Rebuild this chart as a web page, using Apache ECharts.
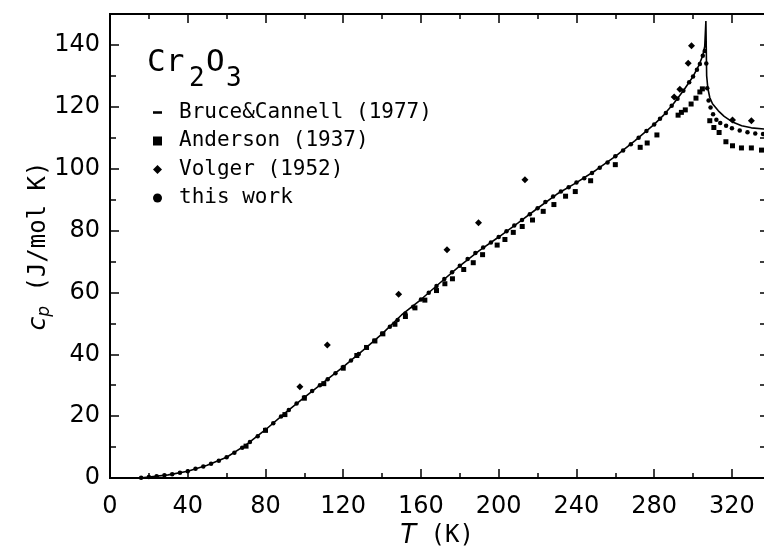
<!DOCTYPE html>
<html>
<head>
<meta charset="utf-8">
<script src="https://cdn.jsdelivr.net/npm/echarts@6/dist/echarts.min.js"></script>
<style>html,body{margin:0;padding:0;background:#fff;}#c{width:764px;height:551px;}</style>
</head>
<body>
<div id="c"></div>
<script>
// ---- data (T in K, cp in J/mol K) ----
const xTicksMajor = [0, 40, 80, 120, 160, 200, 240, 280, 320];
const xTicksMinor = [20, 60, 100, 140, 180, 220, 260, 300];
const yTicksMajor = [0, 20, 40, 60, 80, 100, 120, 140];
const yTicksMinor = [10, 30, 50, 70, 90, 110, 130];

const bruceCannell = [[15,0],[20,0.3],[30,1.0],[40,2.2],[50,4.1],[60,6.7],[70,10.7],[80,15.6],[90,21.0],[100,26.1],[110,31.0],[120,35.9],[130,41.2],[140,46.6],[150,52.7],[160,57.7],[170,63.2],[180,68.6],[190,73.5],[200,77.9],[210,82.5],[220,87.2],[230,91.8],[240,95.5],[250,99.5],[260,104.0],[270,109.0],[280,114.3],[285,117.4],[290,121.1],[295,125.2],[300,129.8],[303,133.4],[305,136.6],[306,139.5],[306.6,147.7],[307.0,130],[307.6,126],[308.6,123],[310,121],[313,118.7],[316,116.9],[320,115.2],[325,113.9],[330,113.2],[340,112.6]];

const anderson = [[70,10.3],[80,15.4],[90,20.5],[100,25.8],[110,30.5],[120,35.5],[127,39.6],[132,42.2],[136.3,44.3],[140.4,46.6],[146.6,49.7],[152,52.2],[156.9,55.0],[162,57.5],[168,60.6],[172.3,62.8],[176.2,64.4],[182,67.4],[186.9,69.6],[191.7,72.2],[199.2,75.3],[203.2,77.1],[207.5,79.4],[212.1,81.3],[217.4,83.4],[222.9,86.2],[228.4,88.4],[234.4,91.1],[239.4,92.6],[247.3,96.1],[260,101.3],[272.8,106.9],[276.4,108.3],[281.4,110.9],[292.3,117.3],[294,118.2],[296,119.0],[299,120.9],[301.5,122.8],[303.5,124.8],[304.8,125.8],[308.6,115.5],[310.7,113.3],[313.4,111.7],[316.9,108.7],[320.3,107.4],[324.9,106.7],[330,106.7],[335.2,106.0]];

const volger = [[97.7,29.5],[111.8,43.0],[148.5,59.4],[173.4,73.8],[189.6,82.5],[213.5,96.4],[290.3,123.2],[293.2,125.7],[297.5,134.1],[299.2,139.7],[320.3,115.7],[330,115.5]];

const thisWork = [[16,0.1],[20,0.3],[24,0.6],[28,0.9],[32,1.2],[36,1.7],[40,2.2],[44,3.0],[48,3.7],[52,4.6],[56,5.6],[60,6.7],[64,8.2],[68,9.8],[72,11.6],[76,13.5],[80,15.6],[84,17.7],[88,19.9],[92,22.0],[96,24.1],[100,26.1],[104,28.1],[108,30.0],[112,31.9],[116,33.9],[120,35.9],[124,38.0],[128,40.1],[132,42.3],[136,44.4],[140,46.6],[144,48.9],[148,51.1],[152,53.2],[156,55.4],[160,57.7],[164,59.9],[168,62.1],[172,64.3],[176,66.5],[180,68.6],[184,70.8],[188,72.7],[192,74.5],[196,76.1],[200,77.9],[204,79.8],[208,81.6],[212,83.4],[216,85.3],[220,87.2],[224,89.2],[228,91.0],[232,92.6],[236,94.0],[240,95.5],[244,96.9],[248,98.6],[252,100.3],[256,102.0],[260,104.0],[264,105.9],[268,107.9],[272,110.0],[276,112.2],[280,114.3],[283,116.1],[286,118.0],[289,120.3],[292,122.6],[295,125.2],[298,127.9],[300,129.8],[302,132.0],[303.5,133.8],[305,136.5],[306,138.0],[306.8,134.0],[307.3,126.0],[308,122.0],[309,119.8],[310.3,117.6],[312,115.8],[314,114.8],[317,113.9],[320,113.1],[324,112.3],[328,111.8],[332,111.4],[336,111.2]];

const seriesNames = ['Bruce&Cannell (1977)', 'Anderson (1937)', 'Volger (1952)', 'this work'];

// ---- chart ----
const X_MIN = 0, X_MAX = 336.5, Y_MIN = 0, Y_MAX = 150;
const black = '#000';
const labelFont = {fontFamily: 'DejaVu Sans', fontSize: 24, color: black};

function axisDef(kind, pos, ticks, len, labels, showLine) {
  const a = {
    type: 'value', position: pos,
    min: kind === 'x' ? X_MIN : Y_MIN, max: kind === 'x' ? X_MAX : Y_MAX,
    axisLine: {show: showLine, onZero: false, lineStyle: {color: black, width: 2}},
    axisTick: {show: true, inside: true, length: len, customValues: ticks, lineStyle: {color: black, width: 1.5}},
    axisLabel: {show: false},
    splitLine: {show: false}
  };
  if (labels) {
    a.axisLabel = Object.assign({show: true, customValues: ticks, margin: kind === 'x' ? 17 : 10}, labelFont);
  }
  return a;
}

const xMain = axisDef('x', 'bottom', xTicksMajor, 9, true, true);
xMain.name = '{i|T}{m| (K)}';
xMain.nameLocation = 'middle';
xMain.nameGap = 45;
xMain.nameMoveOverlap = false;
xMain.nameTextStyle = {fontFamily: 'DejaVu Sans Mono', fontSize: 24, color: black,
  rich: {
    i: {fontFamily: 'DejaVu Sans', fontStyle: 'italic', fontSize: 26, color: black},
    m: {fontFamily: 'DejaVu Sans Mono', fontSize: 24, color: black}
  }};

const yMain = axisDef('y', 'left', yTicksMajor, 9, true, true);
yMain.name = '{i|c}{p|p}{m| (J/mol K)}';
yMain.nameLocation = 'middle';
yMain.nameGap = 57;
yMain.nameMoveOverlap = false;
yMain.nameTextStyle = {fontFamily: 'DejaVu Sans Mono', fontSize: 24, color: black,
  rich: {
    i: {fontFamily: 'DejaVu Sans', fontStyle: 'italic', fontSize: 25, color: black},
    p: {fontFamily: 'DejaVu Sans', fontStyle: 'italic', fontSize: 17, color: black, padding: [12, 0, 0, 0]},
    m: {fontFamily: 'DejaVu Sans Mono', fontSize: 24, color: black}
  }};

const option = {
  animation: false,
  backgroundColor: '#fff',
  grid: {left: 110, top: 14, bottom: 73, right: 0, containLabel: false, outerBoundsMode: 'none'},
  xAxis: [
    xMain,
    axisDef('x', 'bottom', xTicksMinor, 5, false, true),
    axisDef('x', 'top', xTicksMajor, 9, false, true),
    axisDef('x', 'top', xTicksMinor, 5, false, true)
  ],
  yAxis: [
    yMain,
    axisDef('y', 'left', yTicksMinor, 6, false, true),
    axisDef('y', 'right', yTicksMajor, 4, false, false),
    axisDef('y', 'right', yTicksMinor, 4, false, false)
  ],
  legend: {
    orient: 'vertical', left: 148, top: 97,
    itemWidth: 9, itemHeight: 9, itemGap: 7.5,
    textStyle: {fontFamily: 'DejaVu Sans Mono', fontSize: 21, lineHeight: 20, color: black, padding: [0, 0, 0, 12]},
    data: [
      {name: seriesNames[0], icon: 'path://M0,0H7V2H0Z'},
      {name: seriesNames[1], icon: 'rect'},
      {name: seriesNames[2], icon: 'diamond'},
      {name: seriesNames[3], icon: 'circle'}
    ]
  },
  graphic: [
    {type: 'text', x: 147, y: 63, style: {text: 'Cr', font: '31px "DejaVu Sans Mono"', fill: black, verticalAlign: 'middle'}},
    {type: 'text', x: 189, y: 79, style: {text: '2', font: '26px "DejaVu Sans Mono"', fill: black, verticalAlign: 'middle'}},
    {type: 'text', x: 206, y: 63, style: {text: 'O', font: '31px "DejaVu Sans Mono"', fill: black, verticalAlign: 'middle'}},
    {type: 'text', x: 226, y: 79, style: {text: '3', font: '26px "DejaVu Sans Mono"', fill: black, verticalAlign: 'middle'}}
  ],
  series: [
    {name: seriesNames[0], type: 'line', data: bruceCannell, showSymbol: false, symbol: 'none',
     lineStyle: {color: black, width: 1.6}, itemStyle: {color: black, opacity: 1}, z: 2, clip: true},
    {name: seriesNames[1], type: 'scatter', data: anderson, symbol: 'rect', symbolSize: 5,
     itemStyle: {color: black, opacity: 1}, z: 3},
    {name: seriesNames[2], type: 'scatter', data: volger, symbol: 'diamond', symbolSize: 7,
     itemStyle: {color: black, opacity: 1}, z: 3},
    {name: seriesNames[3], type: 'scatter', data: thisWork, symbol: 'circle', symbolSize: 4.5,
     itemStyle: {color: black, opacity: 1}, z: 3}
  ]
};

const chart = echarts.init(document.getElementById('c'), null, {renderer: 'canvas'});
chart.setOption(option);
</script>
</body>
</html>
